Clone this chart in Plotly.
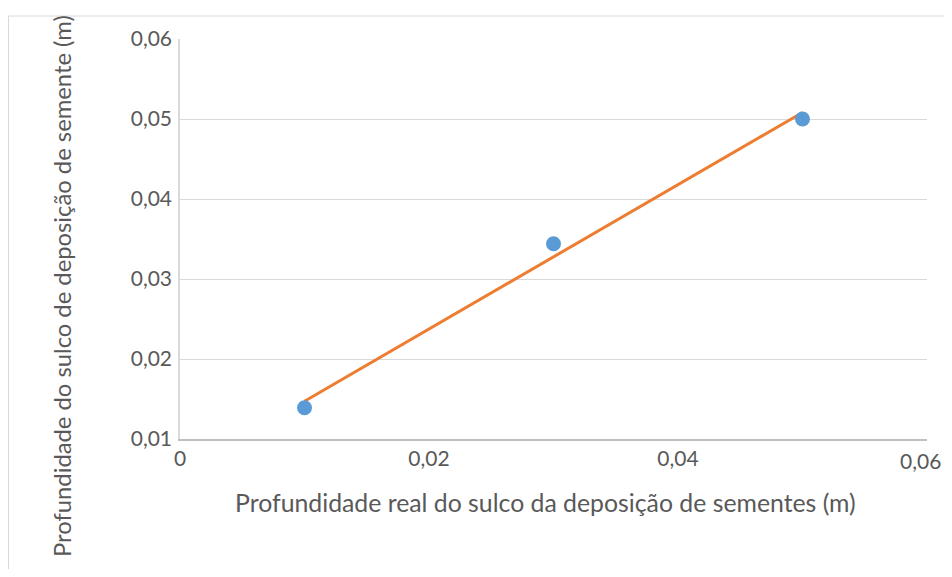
import numpy as np
import plotly.graph_objects as go

x_real = [0.01, 0.03, 0.05]
y_sulco = [0.0139, 0.0344, 0.0500]
x_ticks = [0, 0.02, 0.04, 0.06]
x_tick_labels = ["0", "0,02", "0,04", "0,06"]
y_ticks = [0.01, 0.02, 0.03, 0.04, 0.05, 0.06]
y_tick_labels = ["0,01", "0,02", "0,03", "0,04", "0,05", "0,06"]
x_title = "Profundidade real do sulco da deposição de sementes (m)"
y_title = "Profundidade do sulco de deposição de semente (m)"

slope, intercept = np.polyfit(x_real, y_sulco, 1)
trend_x = [min(x_real), max(x_real)]
trend_y = [slope * v + intercept for v in trend_x]

# page body adds an 8px margin on every side
W, H = 936, 561
L, R, T, B = 172, 17, 31, 130
pw, ph = W - L - R, H - T - B

fig = go.Figure()
fig.add_trace(go.Scatter(x=trend_x, y=trend_y, mode="lines",
                         line=dict(color="#ED7D31", width=3), showlegend=False))
fig.add_trace(go.Scatter(x=x_real, y=y_sulco, mode="markers",
                         marker=dict(color="#5B9BD5", size=15), showlegend=False))

font = "Lato, Carlito, Calibri, sans-serif"
# last x tick label would be clipped at the page edge: draw it right-aligned to the edge
shown_x_labels = x_tick_labels[:-1] + [""]
fig.update_layout(
    width=W, height=H,
    margin=dict(l=L, r=R, t=T, b=B),
    paper_bgcolor="white", plot_bgcolor="white",
    separators=", ",
    font=dict(family=font, color="#595959", size=21),
    xaxis=dict(range=[0, 0.06], tickvals=x_ticks, ticktext=shown_x_labels,
               showgrid=False, zeroline=False, showline=True, linecolor="#bfbfbf", linewidth=1.5,
               ticks="", ticklabelstandoff=0, automargin=False),
    yaxis=dict(range=[0.01, 0.06], tickvals=y_ticks, ticktext=y_tick_labels,
               showgrid=True, gridcolor="#d9d9d9", gridwidth=1, zeroline=False,
               showline=True, linecolor="#d9d9d9", linewidth=1.5, ticks="",
               ticklabelstandoff=2, automargin=False),
    annotations=[
        dict(text=y_title, textangle=-90, xref="paper", yref="paper",
             x=(62 - 8 - L) / pw, y=1 - (286 - 8 - T) / ph,
             xanchor="center", yanchor="middle", showarrow=False,
             font=dict(size=23.8, color="#595959")),
        dict(text=x_title, xref="paper", yref="paper",
             x=(545 - 8 - L) / pw, y=1 - (503 - 8 - T) / ph,
             xanchor="center", yanchor="middle", showarrow=False,
             font=dict(size=24.8, color="#595959")),
        dict(text=x_tick_labels[-1], xref="paper", yref="paper",
             x=(W - 1 - L) / pw, y=1 - (460 - 8 - T) / ph,
             xanchor="right", yanchor="middle", showarrow=False,
             font=dict(size=21, color="#595959")),
    ],
    shapes=[dict(type="rect", xref="paper", yref="paper",
                 x0=(0.5 - L) / pw, x1=(W + 20 - L) / pw,
                 y0=-(H + 20 - T - ph) / ph, y1=1 + (T - 8) / ph,
                 line=dict(color="#d9d9d9", width=1), fillcolor="rgba(0,0,0,0)", layer="below")],
)
fig.write_html("out.html")
